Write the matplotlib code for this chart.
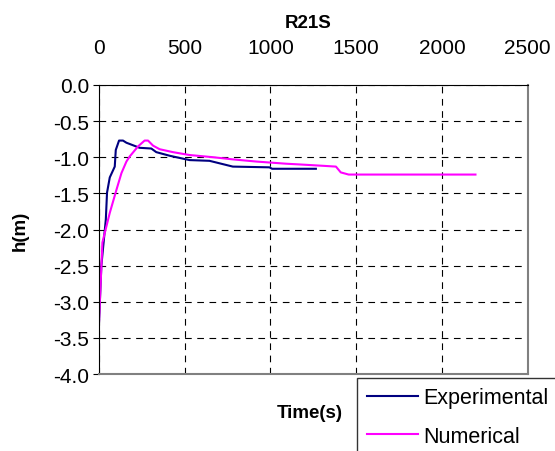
import numpy as np
import matplotlib.pyplot as plt

plt.rcParams['font.family'] = ['Liberation Sans', 'DejaVu Sans']

# Experimental water level
t_exp = [0, 15, 41, 48, 64, 93, 99, 118, 141, 161, 238, 306, 335, 413, 529, 645, 781, 994, 1010, 1265]
h_exp = [-3.35, -2.5, -1.86, -1.49, -1.28, -1.13, -0.9, -0.77, -0.77, -0.80, -0.87, -0.88,
         -0.93, -0.98, -1.04, -1.05, -1.13, -1.14, -1.16, -1.16]

# Numerical water level
t_num = [0, 21, 45, 64, 103, 132, 161, 180, 229, 267, 287, 316, 355, 432, 529, 665, 781, 917,
         1091, 1169, 1314, 1382, 1410, 1456, 2195]
h_num = [-3.35, -2.18, -1.95, -1.77, -1.45, -1.22, -1.06, -0.99, -0.85, -0.77, -0.77, -0.84,
         -0.89, -0.93, -0.97, -1.0, -1.03, -1.06, -1.09, -1.10, -1.12, -1.13, -1.21, -1.24, -1.24]

fig = plt.figure(figsize=(5.55, 4.52), dpi=100)
ax = fig.add_axes([0.178, 0.170, 0.773, 0.640])

l1, = ax.plot(t_exp, h_exp, color='#000080', lw=1.5, label='Experimental')
l2, = ax.plot(t_num, h_num, color='#FF00FF', lw=1.5, label='Numerical')

ax.set_xlim(0, 2500)
ax.set_ylim(-4.0, 0.0)
ax.set_xticks(np.arange(0, 2501, 500))
ax.set_yticks(np.arange(-4.0, 0.01, 0.5))
ax.set_yticklabels([f"{v:.1f}" for v in np.arange(-4.0, 0.01, 0.5)])
ax.xaxis.tick_top()
ax.tick_params(axis='x', length=0, labelsize=15, pad=20)
ax.tick_params(axis='y', direction='out', length=4, labelsize=15, pad=3)
ax.grid(True, color='black', linestyle=(0, (6, 5)), linewidth=0.8)

ax.spines['left'].set_color('black')
ax.spines['top'].set_color('black')
ax.spines['right'].set_color('gray')
ax.spines['bottom'].set_color('gray')
ax.spines['right'].set_linewidth(1.5)
ax.spines['bottom'].set_linewidth(1.5)

ax.set_ylabel('h(m)', fontsize=13.5, fontweight='bold')
ax.yaxis.set_label_coords(-0.163, 0.5)
fig.text(0.555, 0.948, 'R21S', fontsize=13.5, fontweight='bold', ha='center', va='center')
fig.text(0.558, 0.086, 'Time(s)', fontsize=13.5, fontweight='bold', ha='center', va='center')

leg = fig.legend(handles=[l1, l2], loc='upper left', bbox_to_anchor=(0.643, 0.162),
                 fontsize=15.5, frameon=True, fancybox=False, edgecolor='black',
                 handlelength=2.37, borderpad=0.45, labelspacing=0.8, handletextpad=0.28,
                 borderaxespad=0)
leg.get_frame().set_linewidth(1.0)

fig.savefig('out.png', dpi=100)
